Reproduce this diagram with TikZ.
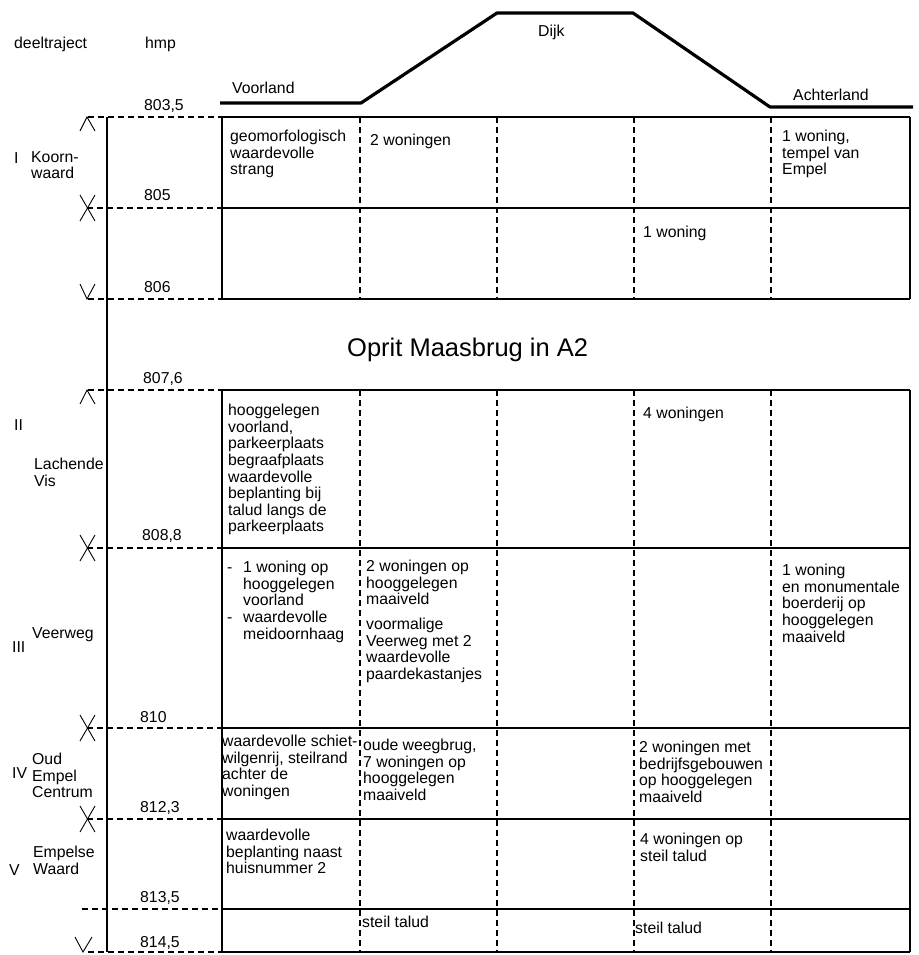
\documentclass[tikz,border=0pt]{standalone}
\usepackage{fontspec}
\setmainfont{Liberation Sans}
\begin{document}
\begin{tikzpicture}[x=1pt,y=-1pt,
    lbl/.style={anchor=north west,inner sep=0pt,align=left,yshift=12pt,
      font=\fontsize{15.8}{16.6}\selectfont,
      execute at begin node={\rule{0pt}{12pt}}},
    titel/.style={anchor=base west,inner sep=0pt,
      font=\fontsize{25.5}{28}\selectfont},
    grid/.style={line width=1.2pt},
    gridd/.style={line width=1.1pt,dash pattern=on 6pt off 4pt},
    marker/.style={line width=0.9pt},
    profiel/.style={line width=3.2pt,line join=round}]
  \useasboundingbox (0,0) rectangle (918,955);

  % dijkprofiel
  \draw[profiel] (220,103) -- (361,103) -- (497,13) -- (633,13) -- (770,107) -- (913,107);
  \node[lbl] (dijk) at (538,36) {Dijk};
  \node[lbl] (voorland) at (232,93) {Voorland};
  \node[lbl] (achterland) at (793,100) {Achterland};

  % koppen
  \node[lbl] (deeltraject) at (14,48) {deeltraject};
  \node[lbl] (hmp) at (145,48) {hmp};

  % tabel
  \draw[grid] (107,117) -- (107,952);
  \foreach \ya/\yb in {117/299, 390/952}
  {
    \draw[grid] (222,\ya) -- (222,\yb);
    \draw[grid] (910,\ya) -- (910,\yb);
    \foreach \x in {360,497,634,771}
      \draw[gridd] (\x,\ya) -- (\x,\yb);
  }
  \foreach \y/\xs in {117/88,208/87,299/88,390/88,548/87,728/87,819/87,909/82,952/88}
  {
    \draw[grid] (222,\y) -- (910,\y);
    \draw[gridd] (\xs,\y) -- (222,\y);
  }

  % begin, grens en eind van een deeltraject
  \foreach \y in {117,390}
    \draw[marker] (80,{\y+14}) -- (87,\y) -- (95,{\y+14});
  \foreach \y in {208,548,728,819}
  {
    \draw[marker] (80,{\y-13}) -- (95,{\y+13});
    \draw[marker] (95,{\y-13}) -- (80,{\y+13});
  }
  \draw[marker] (80,284) -- (87,299) -- (95,284);
  \draw[marker] (75,937) -- (83,952) -- (92,937);

  % hectometerpalen
  \foreach \x/\y/\t/\n in {144/110/{803,5}/hpA, 144/200/805/hpB, 144/292/806/hpC,
      143/383/{807,6}/hpD, 142/540/{808,8}/hpE, 140/722/810/hpF,
      140/812/{812,3}/hpG, 140/902/{813,5}/hpH, 140/947/{814,5}/hpI}
    \node[lbl] (\n) at (\x,\y) {\t};

  % deeltrajecten
  \node[lbl] (nrI) at (14,163) {I};
  \node[lbl] (koornwaard) at (31,163) {Koorn-\\waard};
  \node[lbl] (nrII) at (14,430) {II};
  \node[lbl] (lachendevis) at (34,470) {Lachende\\Vis};
  \node[lbl] (nrIII) at (12,652) {III};
  \node[lbl] (veerweg) at (32,638) {Veerweg};
  \node[lbl] (nrIV) at (12,778) {IV};
  \node[lbl] (oudempel) at (32,765) {Oud\\Empel\\Centrum};
  \node[lbl] (nrV) at (9,875) {V};
  \node[lbl] (empelsewaard) at (33,858) {Empelse\\Waard};

  \node[titel] (oprit) at (347,356) {Oprit Maasbrug in A2};

  % cellen
  \node[lbl] (cAa) at (230,142) {geomorfologisch\\waardevolle\\strang};
  \node[lbl] (cAb) at (370,145) {2 woningen};
  \node[lbl] (cAe) at (782,142) {1 woning,\\tempel van\\Empel};
  \node[lbl] (cBd) at (643,237) {1 woning};
  \node[lbl] (cCa) at (228,416) {hooggelegen\\voorland,\\parkeerplaats\\begraafplaats\\waardevolle\\beplanting bij\\talud langs de\\parkeerplaats};
  \node[lbl] (cCd) at (643,418) {4 woningen};
  \node[lbl] (cDa) at (227,573) {\makebox[16pt][l]{-}1 woning op\\\hspace*{16pt}hooggelegen\\\hspace*{16pt}voorland\\\makebox[16pt][l]{-}waardevolle\\\hspace*{16pt}meidoornhaag};
  \node[lbl] (cDb) at (366,572) {2 woningen op\\hooggelegen\\maaiveld\\[8pt]voormalige\\Veerweg met 2\\waardevolle\\paardekastanjes};
  \node[lbl] (cDe) at (782,576) {1 woning\\en monumentale\\boerderij op\\hooggelegen\\maaiveld};
  \node[lbl] (cEa) at (222,747) {waardevolle schiet-\\wilgenrij, steilrand\\achter de\\woningen};
  \node[lbl] (cEb) at (363,751) {oude weegbrug,\\7 woningen op\\hooggelegen\\maaiveld};
  \node[lbl] (cEd) at (639,753) {2 woningen met\\bedrijfsgebouwen\\op hooggelegen\\maaiveld};
  \node[lbl] (cFa) at (226,841) {waardevolle\\beplanting naast\\huisnummer 2};
  \node[lbl] (cFd) at (640,845) {4 woningen op\\steil talud};
  \node[lbl] (cGb) at (362,927) {steil talud};
  \node[lbl] (cGd) at (635,933) {steil talud};
\end{tikzpicture}
\end{document}
